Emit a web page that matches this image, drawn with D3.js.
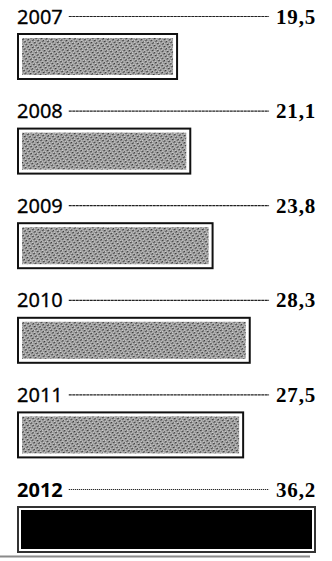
<!DOCTYPE html>
<html>
<head>
<meta charset="utf-8">
<script src="https://cdn.jsdelivr.net/npm/d3@7"></script>
<style>
  html, body { margin: 0; padding: 0; background: #fff; }
  svg { display: block; }
</style>
</head>
<body>
<div id="chart"></div>
<script>
const years = ["2007", "2008", "2009", "2010", "2011", "2012"];
const values = [19.5, 21.1, 23.8, 28.3, 27.5, 36.2];
const valueLabels = ["19,5", "21,1", "23,8", "28,3", "27,5", "36,2"];
const highlightYear = "2012";

const W = 332, H = 561;
const svg = d3.select("#chart").append("svg").attr("width", W).attr("height", H);

const defs = svg.append("defs");
const pat = defs.append("pattern")
  .attr("id", "tex")
  .attr("patternUnits", "userSpaceOnUse")
  .attr("width", 3).attr("height", 4)
  .attr("patternTransform", "rotate(58)");
pat.append("rect").attr("width", 3).attr("height", 4).attr("fill", "#cfcfcf");
pat.append("line").attr("x1", 0.7).attr("y1", 0).attr("x2", 0.7).attr("y2", 2.6)
  .attr("stroke", "#3c3c3c").attr("stroke-width", 1.4);
pat.append("line").attr("x1", 2.2).attr("y1", 1.8).attr("x2", 2.2).attr("y2", 4)
  .attr("stroke", "#7a7a7a").attr("stroke-width", 0.9);

const data = years.map((y, i) => ({ year: y, value: values[i], label: valueLabels[i] }));

const x = d3.scaleLinear().domain([0, d3.max(values)]).range([17, 316]);
const y = d3.scaleBand().domain(years).range([0, 567.6]).paddingInner(0);

const rows = svg.selectAll("g.row").data(data).join("g")
  .attr("class", "row")
  .attr("transform", d => `translate(0,${y(d.year)})`);

const yearText = rows.append("text")
  .attr("x", x(0))
  .attr("y", 23.5)
  .attr("font-family", "'Noto Sans', sans-serif")
  .attr("font-size", 20)
  .attr("font-weight", d => d.year === highlightYear ? 700 : 400)
  .attr("fill", "#000")
  .attr("stroke", d => d.year === highlightYear ? "none" : "#000")
  .attr("stroke-width", 0.3)
  .text(d => d.year);

const valText = rows.append("text")
  .attr("x", x.range()[1])
  .attr("y", 23.5)
  .attr("text-anchor", "end")
  .attr("font-family", "'Liberation Serif', serif")
  .attr("font-size", 21)
  .attr("font-weight", 700)
  .attr("letter-spacing", 0.8)
  .attr("fill", "#000")
  .text(d => d.label);

rows.each(function(d, i) {
  const g = d3.select(this);
  const b1 = yearText.nodes()[i].getBBox();
  const b2 = valText.nodes()[i].getBBox();
  g.insert("line", "text")
    .attr("x1", b1.x + b1.width + 6)
    .attr("x2", b2.x - 7)
    .attr("y1", 16.5).attr("y2", 16.5)
    .attr("stroke", "#222")
    .attr("stroke-width", 1.2)
    .attr("stroke-dasharray", d.year === highlightYear ? "1.2,0.8" : "3,0.5");
});

const barTop = 33, barH = 47;
rows.append("rect")
  .attr("x", x(0) + 1)
  .attr("y", barTop + 1)
  .attr("width", d => x(d.value) - x(0) - 2)
  .attr("height", barH - 2)
  .attr("fill", "#fff")
  .attr("stroke", d => d.year === highlightYear ? "#333" : "#111")
  .attr("stroke-width", 2);

rows.append("rect")
  .attr("x", d => x(0) + (d.year === highlightYear ? 4 : 5))
  .attr("y", d => barTop + (d.year === highlightYear ? 4 : 5))
  .attr("width", d => x(d.value) - x(0) - (d.year === highlightYear ? 8 : 10))
  .attr("height", d => barH - (d.year === highlightYear ? 8 : 10))
  .attr("fill", d => d.year === highlightYear ? "#000" : "url(#tex)");

svg.append("line")
  .attr("x1", 0).attr("x2", 310)
  .attr("y1", 556.5).attr("y2", 556.5)
  .attr("stroke", "#8a8a8a")
  .attr("stroke-width", 2);
</script>
</body>
</html>
